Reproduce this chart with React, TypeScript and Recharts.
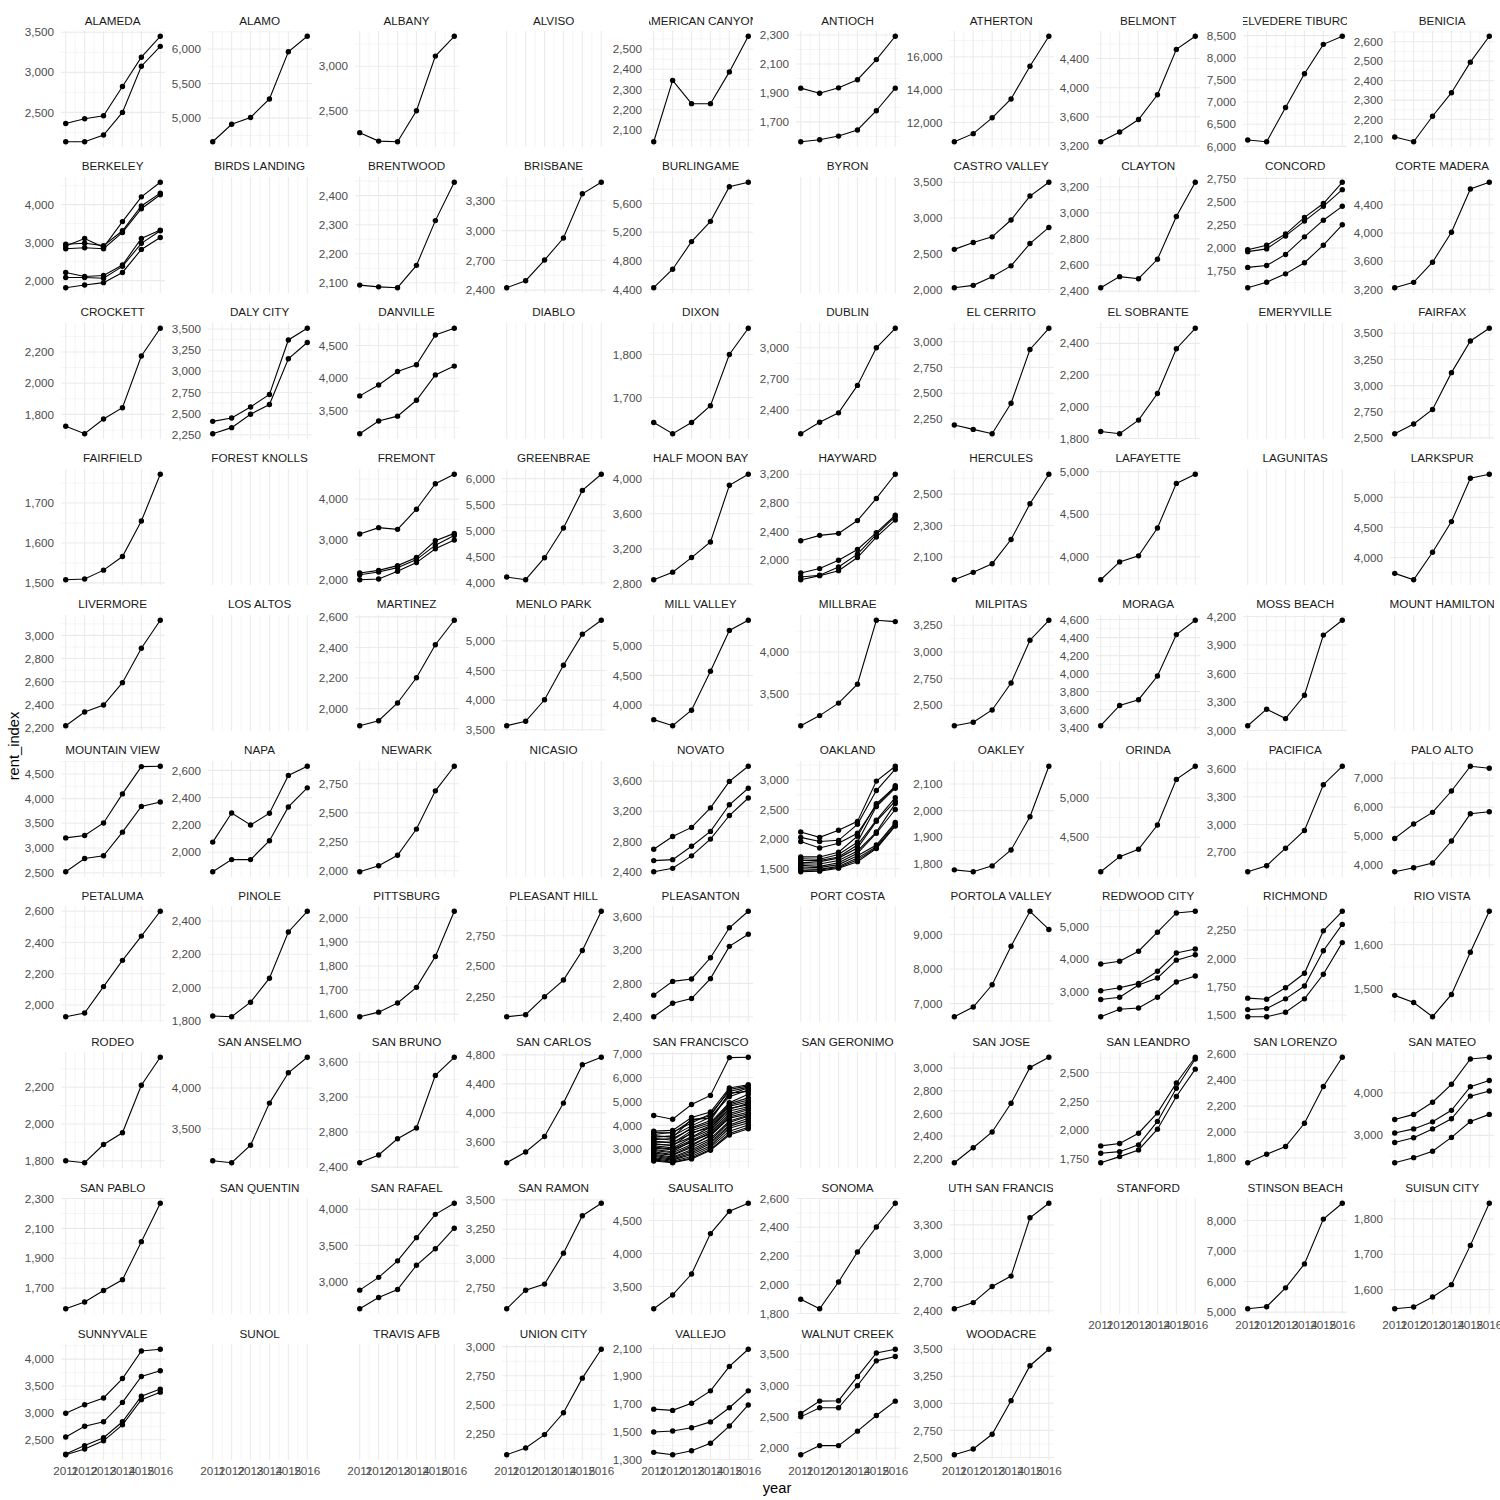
import { CartesianGrid, Line, LineChart, XAxis, YAxis } from "recharts";

type Panel = { city: string; ticks: number[]; lines: number[][] };

const years = [2011, 2012, 2013, 2014, 2015, 2016];
const minorYears = [2011.5, 2012.5, 2013.5, 2014.5, 2015.5];

const row1: Panel[] = [
  { city: "ALAMEDA", ticks: [2500, 3000, 3500], lines: [[2361, 2420, 2458, 2824, 3189, 3450], [2134, 2134, 2218, 2500, 3076, 3324]] },
  { city: "ALAMO", ticks: [5000, 5500, 6000], lines: [[4659, 4912, 5010, 5278, 5961, 6185]] },
  { city: "ALBANY", ticks: [2500, 3000], lines: [[2254, 2159, 2152, 2500, 3114, 3337]] },
  { city: "ALVISO", ticks: [], lines: [] },
  { city: "AMERICAN CANYON", ticks: [2100, 2200, 2300, 2400, 2500], lines: [[2042, 2345, 2230, 2230, 2387, 2563]] },
  { city: "ANTIOCH", ticks: [1700, 1900, 2100, 2300], lines: [[1933, 1898, 1935, 1991, 2130, 2291], [1563, 1577, 1602, 1644, 1777, 1933]] },
  { city: "ATHERTON", ticks: [12000, 14000, 16000], lines: [[10831, 11323, 12287, 13436, 15426, 17251]] },
  { city: "BELMONT", ticks: [3200, 3600, 4000, 4400], lines: [[3260, 3394, 3565, 3903, 4525, 4705]] },
  { city: "BELVEDERE TIBURON", ticks: [6000, 6500, 7000, 7500, 8000, 8500], lines: [[6143, 6105, 6876, 7639, 8303, 8485]] },
  { city: "BENICIA", ticks: [2100, 2200, 2300, 2400, 2500, 2600], lines: [[2110, 2086, 2217, 2338, 2495, 2628]] },
];

const row2: Panel[] = [
  {
    city: "BERKELEY",
    ticks: [2000, 3000, 4000],
    lines: [
      [2911, 3107, 2875, 3554, 4205, 4589],
      [2955, 2982, 2920, 3312, 3964, 4304],
      [2839, 2866, 2839, 3268, 3893, 4259],
      [2214, 2107, 2134, 2411, 3107, 3330],
      [2080, 2080, 2062, 2375, 2982, 3312],
      [1812, 1884, 1946, 2214, 2821, 3134],
    ],
  },
  { city: "BIRDS LANDING", ticks: [], lines: [] },
  { city: "BRENTWOOD", ticks: [2100, 2200, 2300, 2400], lines: [[2092, 2086, 2083, 2160, 2314, 2446]] },
  { city: "BRISBANE", ticks: [2400, 2700, 3000, 3300], lines: [[2424, 2495, 2703, 2925, 3371, 3487]] },
  { city: "BURLINGAME", ticks: [4400, 4800, 5200, 5600], lines: [[4424, 4682, 5068, 5351, 5835, 5897]] },
  { city: "BYRON", ticks: [], lines: [] },
  { city: "CASTRO VALLEY", ticks: [2000, 2500, 3000, 3500], lines: [[2561, 2656, 2736, 2972, 3307, 3500], [2024, 2057, 2179, 2330, 2642, 2868]] },
  { city: "CLAYTON", ticks: [2400, 2600, 2800, 3000, 3200], lines: [[2426, 2511, 2495, 2644, 2972, 3234]] },
  {
    city: "CONCORD",
    ticks: [1750, 2000, 2250, 2500, 2750],
    lines: [
      [1980, 2030, 2150, 2330, 2480, 2710],
      [1960, 1990, 2130, 2290, 2450, 2630],
      [1790, 1810, 1930, 2120, 2300, 2450],
      [1570, 1630, 1720, 1840, 2030, 2250],
    ],
  },
  { city: "CORTE MADERA", ticks: [3200, 3600, 4000, 4400], lines: [[3224, 3300, 3586, 4010, 4624, 4719]] },
];

const row3: Panel[] = [
  { city: "CROCKETT", ticks: [1800, 2000, 2200], lines: [[1724, 1676, 1770, 1843, 2174, 2352]] },
  { city: "DALY CITY", ticks: [2250, 2500, 2750, 3000, 3250, 3500], lines: [[2408, 2448, 2578, 2726, 3370, 3508], [2262, 2334, 2492, 2607, 3148, 3340]] },
  { city: "DANVILLE", ticks: [3500, 4000, 4500], lines: [[3732, 3897, 4103, 4206, 4660, 4763], [3155, 3350, 3423, 3665, 4052, 4186]] },
  { city: "DIABLO", ticks: [], lines: [] },
  { city: "DIXON", ticks: [1700, 1800], lines: [[1642, 1616, 1642, 1681, 1800, 1861]] },
  { city: "DUBLIN", ticks: [2400, 2700, 3000], lines: [[2173, 2283, 2374, 2638, 3000, 3188]] },
  { city: "EL CERRITO", ticks: [2250, 2500, 2750, 3000], lines: [[2191, 2148, 2106, 2402, 2925, 3131]] },
  { city: "EL SOBRANTE", ticks: [1800, 2000, 2200, 2400], lines: [[1844, 1830, 1916, 2084, 2366, 2495]] },
  { city: "EMERYVILLE", ticks: [], lines: [] },
  { city: "FAIRFAX", ticks: [2500, 2750, 3000, 3250, 3500], lines: [[2540, 2633, 2772, 3124, 3427, 3548]] },
];

const row4: Panel[] = [
  { city: "FAIRFIELD", ticks: [1500, 1600, 1700], lines: [[1508, 1510, 1532, 1566, 1655, 1772]] },
  { city: "FOREST KNOLLS", ticks: [], lines: [] },
  {
    city: "FREMONT",
    ticks: [2000, 3000, 4000],
    lines: [
      [3133, 3292, 3250, 3750, 4383, 4617],
      [2167, 2233, 2350, 2550, 2967, 3150],
      [2125, 2192, 2300, 2500, 2858, 3100],
      [2000, 2017, 2208, 2425, 2767, 2983],
    ],
  },
  { city: "GREENBRAE", ticks: [4000, 4500, 5000, 5500, 6000], lines: [[4110, 4058, 4481, 5052, 5774, 6084]] },
  { city: "HALF MOON BAY", ticks: [2800, 3200, 3600, 4000], lines: [[2850, 2936, 3102, 3279, 3924, 4049]] },
  {
    city: "HAYWARD",
    ticks: [2000, 2400, 2800, 3200],
    lines: [
      [2268, 2344, 2372, 2551, 2861, 3200],
      [1816, 1878, 1995, 2146, 2381, 2626],
      [1760, 1784, 1901, 2080, 2358, 2607],
      [1722, 1779, 1849, 2033, 2320, 2560],
    ],
  },
  { city: "HERCULES", ticks: [2100, 2300, 2500], lines: [[1955, 2002, 2057, 2211, 2438, 2626]] },
  { city: "LAFAYETTE", ticks: [4000, 4500, 5000], lines: [[3732, 3941, 4012, 4339, 4862, 4969]] },
  { city: "LAGUNITAS", ticks: [], lines: [] },
  { city: "LARKSPUR", ticks: [4000, 4500, 5000], lines: [[3737, 3631, 4089, 4598, 5318, 5385]] },
];

const row5: Panel[] = [
  { city: "LIVERMORE", ticks: [2200, 2400, 2600, 2800, 3000], lines: [[2218, 2337, 2397, 2591, 2889, 3131]] },
  { city: "LOS ALTOS", ticks: [], lines: [] },
  { city: "MARTINEZ", ticks: [2000, 2200, 2400, 2600], lines: [[1888, 1921, 2037, 2202, 2418, 2578]] },
  { city: "MENLO PARK", ticks: [3500, 4000, 4500, 5000], lines: [[3568, 3643, 4006, 4590, 5114, 5348]] },
  { city: "MILL VALLEY", ticks: [4000, 4500, 5000], lines: [[3757, 3655, 3915, 4568, 5254, 5424]] },
  { city: "MILLBRAE", ticks: [3500, 4000], lines: [[3121, 3242, 3391, 3617, 4379, 4363]] },
  { city: "MILPITAS", ticks: [2500, 2750, 3000, 3250], lines: [[2308, 2340, 2456, 2709, 3110, 3297]] },
  { city: "MORAGA", ticks: [3400, 3600, 3800, 4000, 4200, 4400, 4600], lines: [[3422, 3647, 3711, 3974, 4433, 4592]] },
  { city: "MOSS BEACH", ticks: [3000, 3300, 3600, 3900, 4200], lines: [[3050, 3224, 3125, 3371, 4004, 4160]] },
  { city: "MOUNT HAMILTON", ticks: [], lines: [] },
];

const row6: Panel[] = [
  { city: "MOUNTAIN VIEW", ticks: [2500, 3000, 3500, 4000, 4500], lines: [[3205, 3253, 3507, 4096, 4648, 4655], [2520, 2787, 2842, 3321, 3843, 3932]] },
  { city: "NAPA", ticks: [2000, 2200, 2400, 2600], lines: [[2074, 2288, 2200, 2286, 2563, 2630], [1857, 1946, 1946, 2084, 2332, 2472]] },
  { city: "NEWARK", ticks: [2000, 2250, 2500, 2750], lines: [[1991, 2043, 2133, 2359, 2689, 2901]] },
  { city: "NICASIO", ticks: [], lines: [] },
  {
    city: "NOVATO",
    ticks: [2400, 2800, 3200, 3600],
    lines: [
      [2697, 2866, 2987, 3245, 3596, 3796],
      [2547, 2560, 2738, 2934, 3286, 3505],
      [2400, 2445, 2610, 2832, 3144, 3376],
    ],
  },
  {
    city: "OAKLAND",
    ticks: [1500, 2000, 2500, 3000],
    lines: [
      [2120, 2030, 2150, 2300, 2980, 3230],
      [2030, 1960, 1980, 2250, 2820, 3180],
      [1960, 1850, 1930, 2100, 2570, 2900],
      [1700, 1700, 1780, 2050, 2600, 2880],
      [1670, 1660, 1740, 1950, 2550, 2860],
      [1640, 1640, 1700, 1900, 2320, 2700],
      [1600, 1620, 1680, 1850, 2300, 2640],
      [1580, 1580, 1640, 1800, 2120, 2600],
      [1560, 1540, 1600, 1760, 2100, 2500],
      [1530, 1520, 1570, 1720, 1900, 2280],
      [1500, 1490, 1540, 1680, 1870, 2260],
      [1470, 1480, 1520, 1650, 1850, 2230],
      [1450, 1460, 1510, 1620, 1840, 2220],
    ],
  },
  { city: "OAKLEY", ticks: [1800, 1900, 2000, 2100], lines: [[1777, 1770, 1792, 1852, 1977, 2167]] },
  { city: "ORINDA", ticks: [4500, 5000], lines: [[4060, 4252, 4346, 4654, 5235, 5402]] },
  { city: "PACIFICA", ticks: [2700, 3000, 3300, 3600], lines: [[2490, 2555, 2744, 2936, 3430, 3629]] },
  { city: "PALO ALTO", ticks: [4000, 5000, 6000, 7000], lines: [[4919, 5415, 5819, 6557, 7411, 7342], [3769, 3908, 4069, 4830, 5769, 5838]] },
];

const row7: Panel[] = [
  { city: "PETALUMA", ticks: [2000, 2200, 2400, 2600], lines: [[1925, 1949, 2118, 2286, 2441, 2600]] },
  { city: "PINOLE", ticks: [1800, 2000, 2200, 2400], lines: [[1830, 1826, 1913, 2057, 2334, 2458]] },
  { city: "PITTSBURG", ticks: [1600, 1700, 1800, 1900, 2000], lines: [[1589, 1608, 1646, 1711, 1839, 2027]] },
  { city: "PLEASANT HILL", ticks: [2250, 2500, 2750], lines: [[2086, 2102, 2250, 2386, 2628, 2949]] },
  { city: "PLEASANTON", ticks: [2400, 2800, 3200, 3600], lines: [[2659, 2824, 2853, 3107, 3467, 3665], [2400, 2562, 2618, 2857, 3244, 3390]] },
  { city: "PORT COSTA", ticks: [], lines: [] },
  { city: "PORTOLA VALLEY", ticks: [7000, 8000, 9000], lines: [[6620, 6902, 7546, 8659, 9673, 9146]] },
  {
    city: "REDWOOD CITY",
    ticks: [3000, 4000, 5000],
    lines: [
      [3855, 3938, 4249, 4834, 5425, 5477],
      [3031, 3124, 3259, 3632, 4192, 4316],
      [2762, 2834, 3207, 3425, 3974, 4140],
      [2233, 2461, 2503, 2834, 3301, 3487],
    ],
  },
  {
    city: "RICHMOND",
    ticks: [1500, 1750, 2000, 2250],
    lines: [
      [1649, 1640, 1741, 1869, 2244, 2417],
      [1548, 1557, 1643, 1756, 2068, 2301],
      [1485, 1485, 1524, 1643, 1860, 2140],
    ],
  },
  { city: "RIO VISTA", ticks: [1500, 1600], lines: [[1486, 1470, 1438, 1488, 1583, 1675]] },
];

const row8: Panel[] = [
  { city: "RODEO", ticks: [1800, 2000, 2200], lines: [[1800, 1789, 1888, 1952, 2211, 2363]] },
  { city: "SAN ANSELMO", ticks: [3500, 4000], lines: [[3107, 3083, 3298, 3814, 4186, 4376]] },
  { city: "SAN BRUNO", ticks: [2400, 2800, 3200, 3600], lines: [[2450, 2538, 2723, 2846, 3447, 3654]] },
  { city: "SAN CARLOS", ticks: [3600, 4000, 4400, 4800], lines: [[3312, 3460, 3674, 4135, 4665, 4767]] },
  {
    city: "SAN FRANCISCO",
    ticks: [3000, 4000, 5000, 6000, 7000],
    lines: [
      [4413, 4259, 4874, 5252, 6832, 6846],
      [3760, 3790, 4330, 4560, 5560, 5700],
      [3700, 3680, 4200, 4400, 5500, 5650],
      [3620, 3710, 4100, 4480, 5420, 5600],
      [3580, 3500, 4250, 4300, 5300, 5560],
      [3510, 3560, 3980, 4350, 5200, 5480],
      [3460, 3380, 3900, 4200, 5350, 5420],
      [3400, 3450, 3860, 4120, 4950, 5300],
      [3350, 3260, 3780, 4050, 4900, 5150],
      [3300, 3300, 3650, 3980, 4850, 5060],
      [3240, 3150, 3700, 3900, 4800, 4980],
      [3200, 3180, 3520, 3920, 4680, 4920],
      [3150, 3060, 3480, 3820, 4720, 4850],
      [3100, 3010, 3380, 3760, 4600, 4780],
      [3050, 2980, 3300, 3700, 4500, 4720],
      [2990, 2900, 3350, 3640, 4420, 4650],
      [2950, 2860, 3200, 3560, 4350, 4560],
      [2900, 2780, 3140, 3600, 4300, 4480],
      [2840, 2750, 3080, 3450, 4180, 4420],
      [2790, 2680, 2980, 3380, 4120, 4380],
      [2740, 2640, 2920, 3300, 4020, 4300],
      [2700, 2590, 2850, 3240, 3960, 4200],
      [2650, 2550, 2780, 3150, 3880, 4110],
      [2600, 2500, 2700, 3080, 3760, 4020],
      [2560, 2460, 2640, 3000, 3660, 3920],
      [2510, 2440, 2600, 2960, 3600, 3860],
    ],
  },
  { city: "SAN GERONIMO", ticks: [], lines: [] },
  { city: "SAN JOSE", ticks: [2200, 2400, 2600, 2800, 3000], lines: [[2164, 2296, 2436, 2690, 3006, 3096]] },
  {
    city: "SAN LEANDRO",
    ticks: [1750, 2000, 2250, 2500],
    lines: [
      [1864, 1885, 1974, 2150, 2409, 2632],
      [1800, 1814, 1873, 2076, 2363, 2617],
      [1718, 1771, 1829, 2009, 2292, 2529],
    ],
  },
  { city: "SAN LORENZO", ticks: [1800, 2000, 2200, 2400, 2600], lines: [[1764, 1829, 1889, 2068, 2352, 2577]] },
  {
    city: "SAN MATEO",
    ticks: [3000, 4000],
    lines: [
      [3373, 3492, 3778, 4198, 4794, 4833],
      [3056, 3151, 3317, 3587, 4143, 4286],
      [2833, 2944, 3151, 3389, 3921, 4040],
      [2357, 2476, 2627, 2952, 3325, 3492],
    ],
  },
];

const row9: Panel[] = [
  { city: "SAN PABLO", ticks: [1700, 1900, 2100, 2300], lines: [[1562, 1607, 1684, 1756, 2011, 2268]] },
  { city: "SAN QUENTIN", ticks: [], lines: [] },
  { city: "SAN RAFAEL", ticks: [3000, 3500, 4000], lines: [[2879, 3056, 3285, 3607, 3930, 4084], [2621, 2776, 2888, 3224, 3453, 3738]] },
  { city: "SAN RAMON", ticks: [2750, 3000, 3250, 3500], lines: [[2572, 2730, 2782, 3046, 3365, 3471]] },
  { city: "SAUSALITO", ticks: [3500, 4000, 4500], lines: [[3163, 3372, 3689, 4301, 4638, 4760]] },
  { city: "SONOMA", ticks: [1800, 2000, 2200, 2400, 2600], lines: [[1899, 1833, 2019, 2228, 2402, 2567]] },
  { city: "SOUTH SAN FRANCISCO", ticks: [2400, 2700, 3000, 3300], lines: [[2421, 2485, 2654, 2763, 3374, 3526]] },
  { city: "STANFORD", ticks: [], lines: [] },
  { city: "STINSON BEACH", ticks: [5000, 6000, 7000, 8000], lines: [[5110, 5176, 5794, 6577, 8044, 8562]] },
  { city: "SUISUN CITY", ticks: [1600, 1700, 1800], lines: [[1546, 1551, 1579, 1614, 1725, 1844]] },
];

const row10: Panel[] = [
  {
    city: "SUNNYVALE",
    ticks: [2500, 3000, 3500, 4000],
    lines: [
      [2994, 3152, 3278, 3639, 4152, 4184],
      [2551, 2753, 2835, 3196, 3677, 3785],
      [2234, 2392, 2538, 2835, 3310, 3443],
      [2222, 2329, 2481, 2778, 3247, 3386],
    ],
  },
  { city: "SUNOL", ticks: [], lines: [] },
  { city: "TRAVIS AFB", ticks: [], lines: [] },
  { city: "UNION CITY", ticks: [2250, 2500, 2750, 3000], lines: [[2075, 2132, 2247, 2434, 2730, 2977]] },
  {
    city: "VALLEJO",
    ticks: [1300, 1500, 1700, 1900, 2100],
    lines: [
      [1663, 1654, 1705, 1795, 1971, 2095],
      [1498, 1505, 1529, 1571, 1673, 1795],
      [1351, 1334, 1363, 1417, 1541, 1693],
    ],
  },
  {
    city: "WALNUT CREEK",
    ticks: [2000, 2500, 3000, 3500],
    lines: [
      [2554, 2751, 2757, 3141, 3516, 3575],
      [2500, 2645, 2645, 2995, 3391, 3461],
      [1898, 2043, 2043, 2273, 2521, 2750],
    ],
  },
  { city: "WOODACRE", ticks: [2500, 2750, 3000, 3250, 3500], lines: [[2525, 2578, 2714, 3025, 3348, 3500]] },
];

const rows = [row1, row2, row3, row4, row5, row6, row7, row8, row9, row10];

const FONT = '"Liberation Sans", Arial, Helvetica, sans-serif';
const PLOT_W = 104;
const PLOT_H = 116;
const GRID = "#EBEBEB";

const colLeft = (c: number) => 60.6 + 147 * c + (c >= 6 ? 6.6 : 0);
const axisWidth = (c: number) => (c === 6 ? 49.6 : 43);
const rowTop = (r: number) => 31 + 145.9 * r;

function minorBreaks(ticks: number[], lo: number, hi: number) {
  if (ticks.length < 2) return [];
  const step = ticks[1] - ticks[0];
  const out: number[] = [];
  for (let v = ticks[0] - step / 2; v <= ticks[ticks.length - 1] + step; v += step) {
    if (v >= lo && v <= hi) out.push(v);
  }
  return out;
}

function PanelChart({ panel, axisW, bottom }: { panel: Panel; axisW: number; bottom: boolean }) {
  const hasData = panel.lines.length > 0;
  let domain: [number, number] = [0, 1];
  if (hasData) {
    const all = panel.lines.flat();
    const lo = Math.min(...all);
    const hi = Math.max(...all);
    const pad = (hi - lo) * 0.05;
    domain = [lo - pad, hi + pad];
  }
  const majors = panel.ticks.filter((v) => v >= domain[0] && v <= domain[1]);
  const minors = minorBreaks(panel.ticks, domain[0], domain[1]);
  const data = years.map((y, i) => {
    const row: Record<string, number> = { year: y };
    panel.lines.forEach((l, k) => {
      row["s" + k] = l[i];
    });
    return row;
  });
  const xh = bottom ? 22 : 0;
  const tickStyle = { fontSize: 11.7, fill: "#4D4D4D", fontFamily: FONT };

  return (
    <LineChart
      width={axisW + PLOT_W}
      height={PLOT_H + xh}
      data={data}
      margin={{ top: 0, right: 0, bottom: 0, left: 0 }}
    >
      <CartesianGrid
        horizontal={hasData && minors.length > 0}
        horizontalValues={minors}
        verticalValues={minorYears}
        stroke={GRID}
        strokeWidth={0.55}
      />
      <CartesianGrid
        horizontal={hasData}
        horizontalValues={majors}
        verticalValues={years}
        stroke={GRID}
        strokeWidth={1.1}
      />
      <XAxis
        dataKey="year"
        type="number"
        domain={[2010.75, 2016.25]}
        ticks={years}
        interval={0}
        hide={!bottom}
        height={xh}
        axisLine={false}
        tickLine={false}
        tickSize={4}
        tickMargin={3}
        tick={tickStyle}
      />
      <YAxis
        type="number"
        domain={domain}
        ticks={hasData ? majors : undefined}
        interval={0}
        width={axisW}
        axisLine={false}
        tickLine={false}
        tickSize={5}
        tickMargin={2}
        tick={hasData ? tickStyle : false}
        tickFormatter={(v: number) => v.toLocaleString("en-US")}
      />
      {panel.lines.map((_, k) => (
        <Line
          key={k}
          dataKey={"s" + k}
          type="linear"
          stroke="#000"
          strokeWidth={1.1}
          dot={{ r: 2.7, fill: "#000", stroke: "none" }}
          activeDot={false}
          isAnimationActive={false}
        />
      ))}
    </LineChart>
  );
}

export default function App() {
  return (
    <div
      style={{
        position: "absolute",
        left: 0,
        top: 0,
        width: 1500,
        height: 1500,
        background: "#fff",
        fontFamily: FONT,
      }}
    >
      <style>{`.recharts-wrapper, .recharts-surface { overflow: visible !important; }`}</style>
      {rows.map((row, r) =>
        row.map((panel, c) => {
          const left = colLeft(c);
          const top = rowTop(r);
          const axisW = axisWidth(c);
          const bottom = r === rows.length - 1 || rows[r + 1][c] === undefined;
          return (
            <div key={panel.city}>
              <div
                style={{
                  position: "absolute",
                  left,
                  top: top - 21,
                  width: PLOT_W,
                  height: 20,
                  display: "flex",
                  justifyContent: "center",
                  alignItems: "center",
                  overflow: "hidden",
                  whiteSpace: "nowrap",
                  fontSize: 11.7,
                  color: "#1A1A1A",
                }}
              >
                {panel.city}
              </div>
              <div style={{ position: "absolute", left: left - axisW, top }}>
                <PanelChart panel={panel} axisW={axisW} bottom={bottom} />
              </div>
            </div>
          );
        })
      )}
      <div
        style={{
          position: "absolute",
          left: 14,
          top: 746,
          transform: "translate(-50%, -50%) rotate(-90deg)",
          fontSize: 14.7,
          color: "#000",
          whiteSpace: "nowrap",
        }}
      >
        rent_index
      </div>
      <div
        style={{
          position: "absolute",
          left: 777,
          top: 1488,
          transform: "translate(-50%, -50%)",
          fontSize: 14.7,
          color: "#000",
        }}
      >
        year
      </div>
    </div>
  );
}
